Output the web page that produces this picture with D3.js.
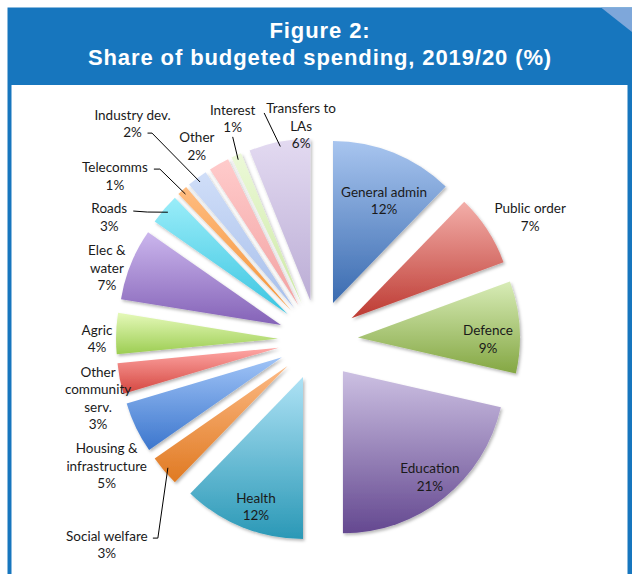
<!DOCTYPE html>
<html>
<head>
<meta charset="utf-8">
<script src="https://cdn.jsdelivr.net/npm/d3@7"></script>
<style>
  html, body { margin: 0; padding: 0; background: #fff; }
  svg { display: block; }
</style>
</head>
<body>
<svg id="chart" width="632" height="574"></svg>
<script>
// ---- data ----
const categories = ["General admin", "Public order", "Defence", "Education", "Health",
  "Social welfare", "Housing & infrastructure", "Other community serv.", "Agric",
  "Elec & water", "Roads", "Telecomms", "Industry dev.", "Other", "Interest", "Transfers to LAs"];
const shares = [12, 7, 9, 21, 12, 3, 5, 3, 4, 7, 3, 1, 2, 2, 1, 6];

// category names broken into lines for the labels
const labelLines = [["General admin"], ["Public order"], ["Defence"], ["Education"], ["Health"],
  ["Social welfare"], ["Housing &", "infrastructure"], ["Other", "community", "serv."], ["Agric"],
  ["Elec &", "water"], ["Roads"], ["Telecomms"], ["Industry dev."], ["Other"], ["Interest"],
  ["Transfers to", "LAs"]];

// ---- styling ----
const colorTop = ["#a8c5ef", "#f3aea9", "#d8ecb7", "#ccc0e2", "#aee2f5", "#fcb984", "#a0c4f7", "#ffa8a6",
  "#e5f9b9", "#cbb6ed", "#9aedf9", "#ffbc80", "#d0def8", "#ffcbcb", "#ecf9d8", "#e3daf1"];
const colorBottom = ["#3a6bb0", "#bd3a32", "#84a743", "#644890", "#2a98b6", "#e07a22", "#3c76cd", "#d4463f",
  "#9ccd52", "#8462b7", "#3bc5e1", "#f4953a", "#a7bfeb", "#f2a2a2", "#cde9a5", "#bbadd5"];

// label anchor in polar form about the pie centre (degrees clockwise from 12 o'clock, px)
const labelAngle = [25.4, 60.0, 89.7, 140.8, 200.4, 225.9, 239.2, 255.2, 270.3, 288.8, 300.4, 308.9, 319.4, 328.0, 338.9, 355.5];
const labelDist  = [154, 245, 170, 177, 178, 294, 246, 227.5, 221, 223, 242, 261, 285, 228.6, 237, 214.7];

// leader lines: points relative to the label anchor, ending on the slice rim
const leaders = [
  { i: 5,  pts: [[46, -6.5], [51, -6.5]] },
  { i: 10, pts: [[24, -6.5], [38, -5.5]] },
  { i: 11, pts: [[39, -7], [45, -7]] },
  { i: 12, pts: [[15, 9.5], [19.5, 9.5]] },
  { i: 14, pts: [[0, 18]] },
  { i: 15, pts: [[-37, -13]] }
];

const W = 632, H = 574;
const cx = 318, cy = 340, R = 162, explode = 40;
const lineH = 17.5;
const labelFont = "Lato, 'Open Sans', sans-serif";

const svg = d3.select("#chart");
const defs = svg.append("defs");

// soft shadow under each slice
const shadow = defs.append("filter").attr("id", "sliceShadow")
  .attr("x", "-20%").attr("y", "-20%").attr("width", "140%").attr("height", "140%");
shadow.append("feDropShadow").attr("dx", 1.5).attr("dy", 2).attr("stdDeviation", 1.8)
  .attr("flood-color", "#000").attr("flood-opacity", 0.28);

// vertical gradient per slice
shares.forEach((d, i) => {
  const g = defs.append("linearGradient").attr("id", "grad" + i)
    .attr("x1", 0).attr("y1", 0).attr("x2", 0).attr("y2", 1);
  g.append("stop").attr("offset", "0%").attr("stop-color", colorTop[i]);
  g.append("stop").attr("offset", "100%").attr("stop-color", colorBottom[i]);
});

// ---- frame and header ----
svg.append("rect").attr("x", 7.5).attr("y", 7.5).attr("width", W - 7.5).attr("height", H - 7.5)
  .attr("fill", "#1776be");
svg.append("rect").attr("x", 11.5).attr("y", 85).attr("width", 616).attr("height", H - 85)
  .attr("fill", "#fff");
svg.append("path").attr("d", "M601,7.5L632,7.5L632,32Z").attr("fill", "#7ea7da");

const title = svg.append("text")
  .attr("text-anchor", "middle")
  .attr("font-family", "'Liberation Sans', Arial, sans-serif")
  .attr("font-weight", "bold")
  .attr("font-size", 22)
  .attr("letter-spacing", 0.9)
  .attr("fill", "#fff");
title.append("tspan").attr("x", 320).attr("y", 37.5).text("Figure 2:");
title.append("tspan").attr("x", 320).attr("y", 65).text("Share of budgeted spending, 2019/20 (%)");

// ---- pie ----
const arcs = d3.pie().sort(null).value(d => d)(shares);
const arcGen = d3.arc().innerRadius(0).outerRadius(R);
const offset = a => {
  const m = (a.startAngle + a.endAngle) / 2;
  return [explode * Math.sin(m), -explode * Math.cos(m)];
};

const pieG = svg.append("g").attr("transform", `translate(${cx},${cy})`);
pieG.selectAll("path.slice")
  .data(arcs)
  .join("path")
  .attr("class", "slice")
  .attr("transform", d => { const o = offset(d); return `translate(${o[0]},${o[1]})`; })
  .attr("d", arcGen)
  .attr("fill", (d, i) => `url(#grad${i})`)
  .attr("filter", "url(#sliceShadow)");

// ---- labels ----
const polar = (deg, dist) => {
  const a = deg * Math.PI / 180;
  return [cx + dist * Math.sin(a), cy - dist * Math.cos(a)];
};

const labelG = svg.append("g")
  .attr("font-family", labelFont)
  .attr("font-size", 13.5)
  .attr("fill", "#1a1a1a")
  .attr("text-anchor", "middle");

categories.forEach((c, i) => {
  const [lx, ly] = polar(labelAngle[i], labelDist[i]);
  const lines = labelLines[i].concat([shares[i] + "%"]);
  const y0 = ly - (lines.length - 1) * lineH / 2 + 4.7;
  const t = labelG.append("text");
  lines.forEach((s, k) => {
    t.append("tspan").attr("x", lx).attr("y", y0 + k * lineH).text(s);
  });
});

// ---- leader lines ----
const leaderG = svg.append("g").attr("fill", "none").attr("stroke", "#000").attr("stroke-width", 1);
leaders.forEach(l => {
  const [lx, ly] = polar(labelAngle[l.i], labelDist[l.i]);
  const a = arcs[l.i];
  const m = (a.startAngle + a.endAngle) / 2;
  const o = offset(a);
  const end = [cx + o[0] + R * 0.97 * Math.sin(m), cy + o[1] - R * 0.97 * Math.cos(m)];
  const pts = l.pts.map(p => [lx + p[0], ly + p[1]]).concat([end]);
  leaderG.append("path").attr("d", d3.line()(pts));
});
</script>
</body>
</html>
